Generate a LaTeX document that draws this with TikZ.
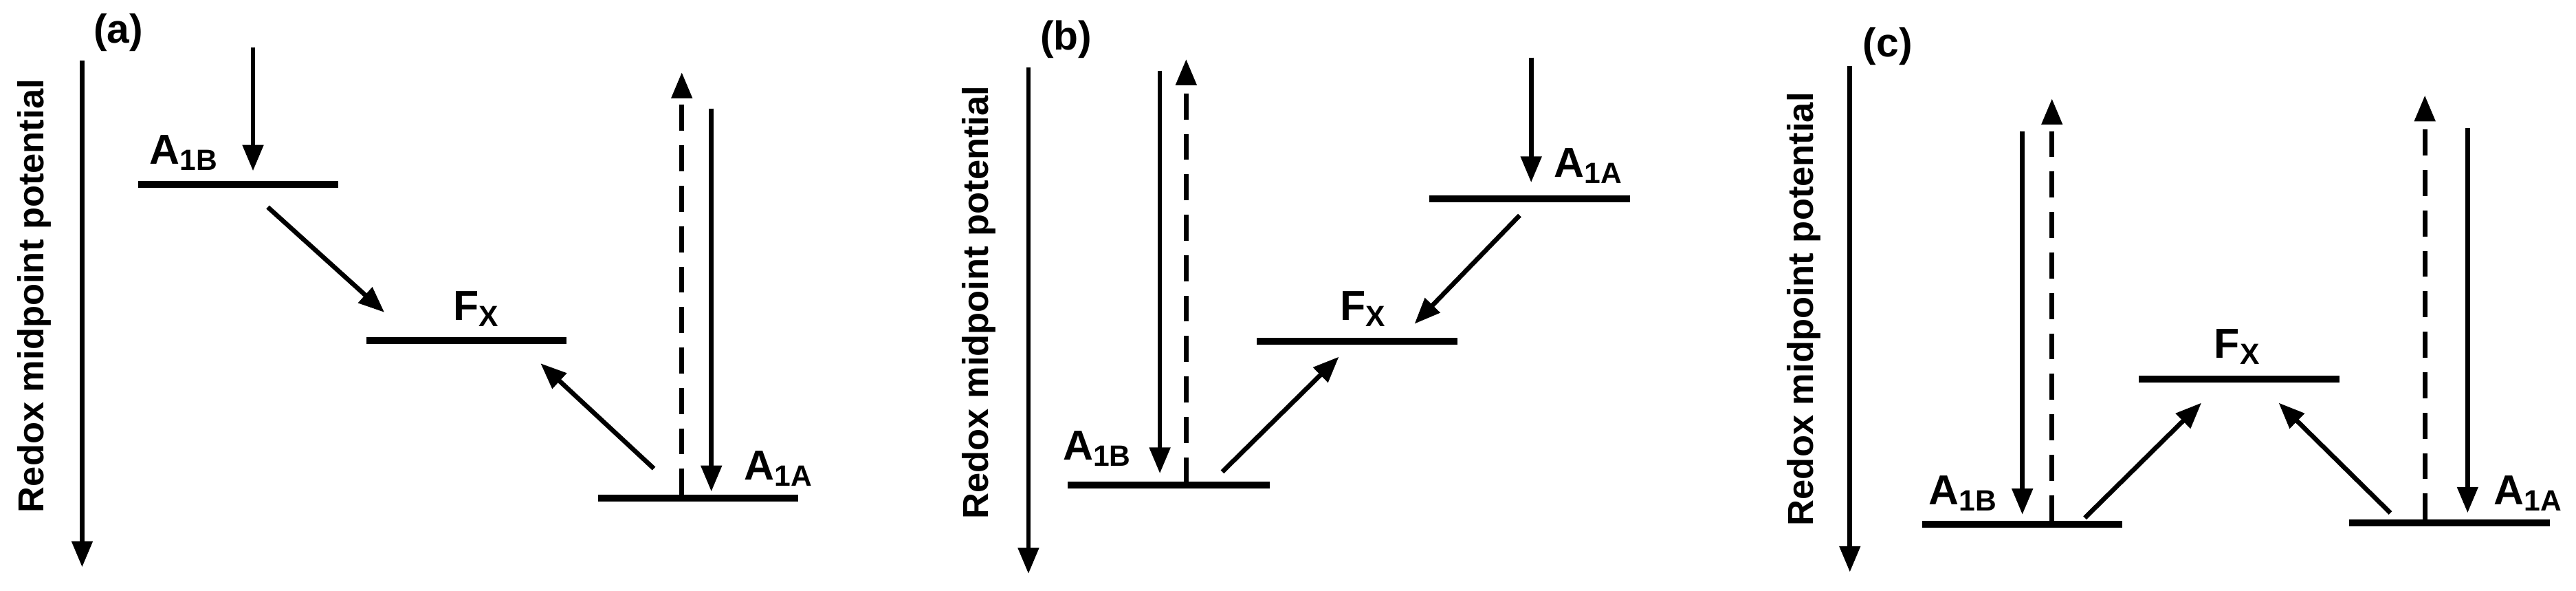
\documentclass[tikz,border=0pt]{standalone}
\usepackage{fontspec}
\setmainfont{Liberation Sans}
\usetikzlibrary{arrows.meta}
\begin{document}
\begin{tikzpicture}[x=0.02cm,y=-0.02cm,
  level/.style={line width=2.4pt},
  arr/.style={line width=1.6pt,-{Triangle[length=9pt,width=7pt]}},
  darr/.style={arr,dash pattern=on 9pt off 5pt},
  lab/.style={font=\bfseries\fontsize{14.5}{15}\selectfont,inner sep=0pt},
  axlab/.style={font=\bfseries\fontsize{12.5}{13}\selectfont,rotate=90,inner sep=0pt},
  pan/.style={font=\bfseries\fontsize{14}{15}\selectfont,inner sep=0pt}]
\useasboundingbox (0,0) rectangle (1568,359.4);
% ---------- panel a
\coordinate (aAxT) at (50,37); \coordinate (aAxB) at (50,345);
\draw[arr] (aAxT) -- (aAxB);
\node[axlab] (aAx) at (21,180) {Redox midpoint potential};
\node[pan] (pa) at (72,20) {(a)};
\coordinate (a1bL) at (84,112); \coordinate (a1bR) at (206,112);
\draw[level] (a1bL) -- (a1bR);
\node[lab] (la1b) at (112,93) {A\textsubscript{1B}};
\coordinate (aIn) at (154,29); \coordinate (aInE) at (154,104);
\draw[arr] (aIn) -- (aInE);
\coordinate (aD1s) at (163,126); \coordinate (aD1e) at (234,190);
\draw[arr] (aD1s) -- (aD1e);
\coordinate (afxL) at (223,207); \coordinate (afxR) at (345,207);
\draw[level] (afxL) -- (afxR);
\node[lab] (lafx) at (290,188) {F\textsubscript{X}};
\coordinate (aD2s) at (398,285); \coordinate (aD2e) at (329,221);
\draw[arr] (aD2s) -- (aD2e);
\coordinate (a1aL) at (364,303); \coordinate (a1aR) at (486,303);
\draw[level] (a1aL) -- (a1aR);
\node[lab] (la1a) at (474,285) {A\textsubscript{1A}};
\coordinate (aUs) at (415,301); \coordinate (aUe) at (415,44);
\draw[darr] (aUs) -- (aUe);
\coordinate (aDs) at (433,66); \coordinate (aDe) at (433,299);
\draw[arr] (aDs) -- (aDe);
% ---------- panel b
\coordinate (bAxT) at (626,41); \coordinate (bAxB) at (626,349);
\draw[arr] (bAxT) -- (bAxB);
\node[axlab] (bAx) at (596,184) {Redox midpoint potential};
\node[pan] (pb) at (649,24) {(b)};
\coordinate (b1bL) at (650,295); \coordinate (b1bR) at (773,295);
\draw[level] (b1bL) -- (b1bR);
\node[lab] (lb1b) at (668,273) {A\textsubscript{1B}};
\coordinate (bDs) at (706,43); \coordinate (bDe) at (706,288);
\draw[arr] (bDs) -- (bDe);
\coordinate (bUs) at (722,294); \coordinate (bUe) at (722,36);
\draw[darr] (bUs) -- (bUe);
\coordinate (bD1s) at (744,287); \coordinate (bD1e) at (815,217);
\draw[arr] (bD1s) -- (bD1e);
\coordinate (bfxL) at (765,207.5); \coordinate (bfxR) at (887,207.5);
\draw[level] (bfxL) -- (bfxR);
\node[lab] (lbfx) at (830,188) {F\textsubscript{X}};
\coordinate (b1aL) at (870,121); \coordinate (b1aR) at (992,121);
\draw[level] (b1aL) -- (b1aR);
\node[lab] (lb1a) at (967,101) {A\textsubscript{1A}};
\coordinate (bIn) at (932,35); \coordinate (bInE) at (932,111);
\draw[arr] (bIn) -- (bInE);
\coordinate (bD2s) at (925,131); \coordinate (bD2e) at (861,197);
\draw[arr] (bD2s) -- (bD2e);
% ---------- panel c
\coordinate (cAxT) at (1126,40); \coordinate (cAxB) at (1126,348);
\draw[arr] (cAxT) -- (cAxB);
\node[axlab] (cAx) at (1098,188) {Redox midpoint potential};
\node[pan] (pc) at (1149,28) {(c)};
\coordinate (c1bL) at (1170,319); \coordinate (c1bR) at (1292,319);
\draw[level] (c1bL) -- (c1bR);
\node[lab] (lc1b) at (1195,300) {A\textsubscript{1B}};
\coordinate (cDs) at (1231,80); \coordinate (cDe) at (1231,313);
\draw[arr] (cDs) -- (cDe);
\coordinate (cUs) at (1249,317); \coordinate (cUe) at (1249,60);
\draw[darr] (cUs) -- (cUe);
\coordinate (cD1s) at (1269,315); \coordinate (cD1e) at (1340,245);
\draw[arr] (cD1s) -- (cD1e);
\coordinate (cfxL) at (1302,230.5); \coordinate (cfxR) at (1424,230.5);
\draw[level] (cfxL) -- (cfxR);
\node[lab] (lcfx) at (1362,211) {F\textsubscript{X}};
\coordinate (cD2s) at (1455,312); \coordinate (cD2e) at (1387,245);
\draw[arr] (cD2s) -- (cD2e);
\coordinate (c1aL) at (1430,318); \coordinate (c1aR) at (1552,318);
\draw[level] (c1aL) -- (c1aR);
\node[lab] (lc1a) at (1539,300) {A\textsubscript{1A}};
\coordinate (cU2s) at (1476,316); \coordinate (cU2e) at (1476,58);
\draw[darr] (cU2s) -- (cU2e);
\coordinate (cD3s) at (1502,78); \coordinate (cD3e) at (1502,312);
\draw[arr] (cD3s) -- (cD3e);
\end{tikzpicture}
\end{document}
